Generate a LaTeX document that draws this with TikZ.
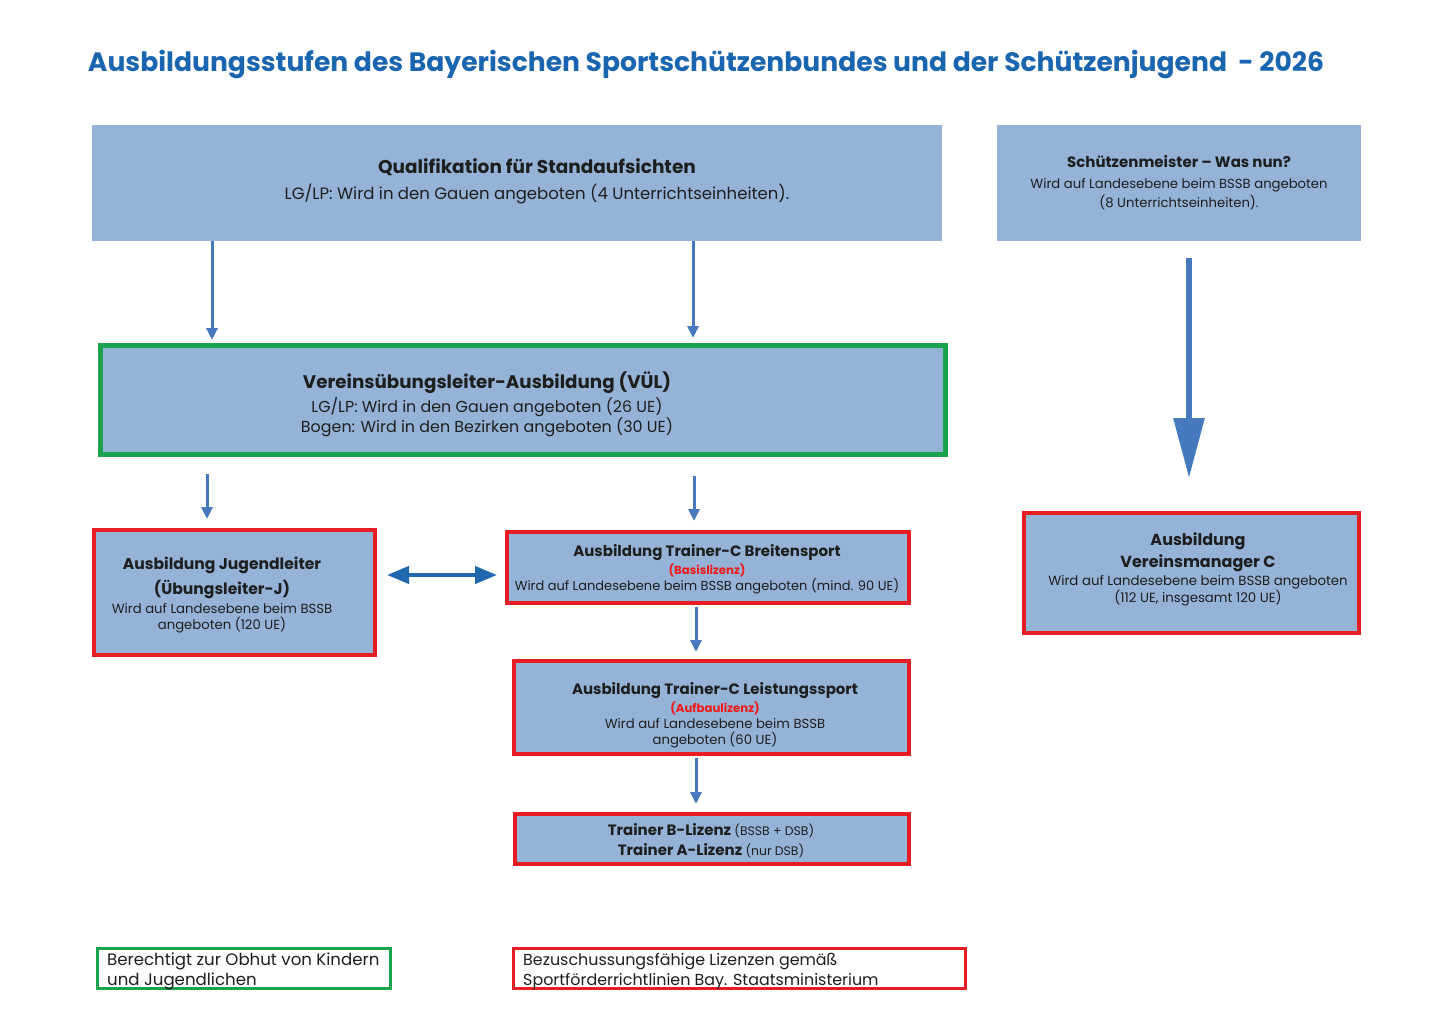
\documentclass[tikz,border=0pt]{standalone}
\usepackage{fontspec}
\setmainfont{Poppins}
\usetikzlibrary{arrows.meta}
\definecolor{boxblue}{RGB}{149,179,215}
\definecolor{arrowblue}{RGB}{70,121,189}
\definecolor{darkblue}{RGB}{31,104,176}
\definecolor{titleblue}{RGB}{26,101,176}
\definecolor{vgreen}{RGB}{26,163,76}
\definecolor{vred}{RGB}{232,29,36}
\definecolor{redtext}{RGB}{240,24,24}
\definecolor{ink}{RGB}{30,30,30}
\tikzset{
  box/.style={fill=boxblue, draw=none, inner sep=0pt},
  gbox/.style={box, draw=vgreen, line width=5pt},
  rbox/.style={box, draw=vred, line width=4pt},
  legend/.style={fill=white, line width=3pt, inner sep=0pt},
  txt/.style={text=ink, align=center, inner sep=0pt},
  arr/.style={draw=arrowblue, line width=3pt, -{Triangle[length=12pt,width=11pt]}},
  bigarr/.style={draw=arrowblue, line width=6pt, -{Triangle[length=60pt,width=30pt]}},
  dblarr/.style={draw=darkblue, line width=4pt, {Triangle[length=22pt,width=17pt]}-{Triangle[length=22pt,width=17pt]}}
}
\begin{document}
\begin{tikzpicture}[x=1pt,y=-1pt]
\useasboundingbox (0,0) rectangle (1440,1020);
% title
\node[inner sep=0pt, text=titleblue, font=\fontsize{26.6}{30}\selectfont\bfseries] (title) at (706,65)
  {Ausbildungsstufen des Bayerischen Sportschützenbundes und der Schützenjugend\ \ - 2026};
% boxes
\node[box, minimum width=850pt, minimum height=116pt] (qual) at (517,183) {};
\node[box, minimum width=364pt, minimum height=116pt] (schue) at (1179,183) {};
\node[gbox, minimum width=845pt, minimum height=109pt] (vul) at (523,400) {};
\node[rbox, minimum width=281pt, minimum height=125pt] (jug) at (234.5,592.5) {};
\node[rbox, minimum width=402pt, minimum height=71pt] (trc) at (708,567.5) {};
\node[rbox, minimum width=395pt, minimum height=93pt] (trl) at (711.5,707.5) {};
\node[rbox, minimum width=394pt, minimum height=50pt] (trb) at (712,839) {};
\node[rbox, minimum width=335pt, minimum height=120pt] (vm) at (1191.5,573) {};
\node[legend, draw=vgreen, minimum width=293pt, minimum height=40pt] (legG) at (244,968.5) {};
\node[legend, draw=vred, minimum width=452pt, minimum height=40pt] (legR) at (739.5,968.5) {};
% texts
\node[txt, font=\fontsize{16.5}{24}\selectfont] (qualT) at (537,181)
  {{\fontsize{18.5}{24}\selectfont\bfseries Qualifikation für Standaufsichten}\\[2pt]
   LG/LP: Wird in den Gauen angeboten (4 Unterrichtseinheiten).};
\node[txt, font=\fontsize{13.2}{19}\selectfont] (schueT) at (1179,183)
  {{\fontsize{15}{19}\selectfont\bfseries Schützenmeister – Was nun?}\\[2pt]
   Wird auf Landesebene beim BSSB angeboten\\
   (8 Unterrichtseinheiten).};
\node[txt, font=\fontsize{15.9}{19}\selectfont] (vulT) at (487,404)
  {{\fontsize{18.3}{19}\selectfont\bfseries Vereinsübungsleiter-Ausbildung (VÜL)}\\[3pt]
   LG/LP: Wird in den Gauen angeboten (26 UE)\\
   Bogen: Wird in den Bezirken angeboten (30 UE)};
\node[txt, font=\fontsize{13.2}{16}\selectfont] (jugT) at (222,595)
  {{\fontsize{15.6}{16}\selectfont\bfseries Ausbildung Jugendleiter}\\[5pt]
   {\fontsize{15.6}{16}\selectfont\bfseries (Übungsleiter-J)}\\[3pt]
   Wird auf Landesebene beim BSSB\\
   angeboten (120 UE)};
\node[txt, font=\fontsize{13}{16}\selectfont] (trcT) at (707,569)
  {{\fontsize{15}{16}\selectfont\bfseries Ausbildung Trainer-C Breitensport}\\[2pt]
   {\fontsize{11.7}{16}\selectfont\bfseries\color{redtext}(Basislizenz)}\\
   Wird auf Landesebene beim BSSB angeboten (mind. 90 UE)};
\node[txt, font=\fontsize{13.2}{16}\selectfont] (trlT) at (715,715)
  {{\fontsize{15}{16}\selectfont\bfseries Ausbildung Trainer-C Leistungssport}\\[2pt]
   {\fontsize{11.7}{16}\selectfont\bfseries\color{redtext}(Aufbaulizenz)}\\
   Wird auf Landesebene beim BSSB\\
   angeboten (60 UE)};
\node[txt, font=\fontsize{12.4}{20}\selectfont] (trbT) at (711,841)
  {{\fontsize{15}{20}\selectfont\bfseries Trainer B-Lizenz} (BSSB + DSB)\\
   {\fontsize{15}{20}\selectfont\bfseries Trainer A-Lizenz} (nur DSB)};
\node[txt, font=\fontsize{13.3}{17}\selectfont] (vmT) at (1198,569)
  {{\fontsize{16}{17}\selectfont\bfseries Ausbildung}\\[4pt]
   {\fontsize{16}{17}\selectfont\bfseries Vereinsmanager C}\\[1pt]
   Wird auf Landesebene beim BSSB angeboten\\
   (112 UE, insgesamt 120 UE)};
\node[txt, align=left, anchor=west, font=\fontsize{16.6}{20}\selectfont] (legGT) at (107,971)
  {Berechtigt zur Obhut von Kindern\\und Jugendlichen};
\node[txt, align=left, anchor=west, font=\fontsize{15.9}{20}\selectfont] (legRT) at (523,971)
  {Bezuschussungsfähige Lizenzen gemäß\\Sportförderrichtlinien Bay. Staatsministerium};
% arrows
\coordinate (a1) at (212,0);
\coordinate (a2) at (693,0);
\coordinate (a3) at (207,0);
\coordinate (a4) at (694,0);
\coordinate (a5) at (696,0);
\coordinate (a6) at (1189,0);
\coordinate (d1) at (0,575);
\draw[arr, shorten >=3pt] (a1 |- qual.south) -- (a1 |- vul.north);
\draw[arr, shorten >=5pt] (a2 |- qual.south) -- (a2 |- vul.north);
\draw[arr, shorten <=17pt, shorten >=9pt] (a3 |- vul.south) -- (a3 |- jug.north);
\draw[arr, shorten <=19pt, shorten >=9pt] (a4 |- vul.south) -- (a4 |- trc.north);
\draw[arr, shorten <=2pt, shorten >=7pt] (a5 |- trc.south) -- (a5 |- trl.north);
\draw[arr, shorten <=2pt, shorten >=8pt] (a5 |- trl.south) -- (a5 |- trb.north);
\draw[bigarr, shorten <=17pt, shorten >=33pt] (a6 |- schue.south) -- (a6 |- vm.north);
\draw[dblarr, shorten <=10pt, shorten >=8pt] (jug.east |- d1) -- (trc.west |- d1);
\end{tikzpicture}
\end{document}
